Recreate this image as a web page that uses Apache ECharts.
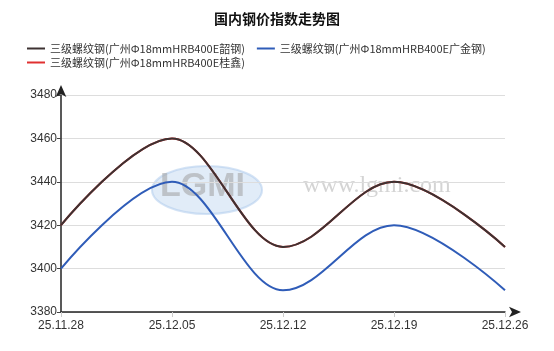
<!DOCTYPE html>
<html><head><meta charset="utf-8">
<script src="https://cdn.jsdelivr.net/npm/echarts@6/dist/echarts.min.js"></script>
<style>html,body{margin:0;padding:0;background:#fff}#c{width:554px;height:351px}</style>
</head><body><div id="c"></div>
<script>
var categories = ['25.11.28','25.12.05','25.12.12','25.12.19','25.12.26'];
var shaoGang = [3420, 3460, 3410, 3440, 3410];
var guangJin = [3400, 3440, 3390, 3420, 3390];
var guiXin = [3420, 3460, 3410, 3440, 3410];
var seriesNames = ['三级螺纹钢(广州Φ18mmHRB400E韶钢)','三级螺纹钢(广州Φ18mmHRB400E广金钢)','三级螺纹钢(广州Φ18mmHRB400E桂鑫)'];
var font = '"Microsoft YaHei","Noto Sans CJK SC",sans-serif';
var chart = echarts.init(document.getElementById('c'));
chart.setOption({
  backgroundColor:'#fff',
  animation:false,
  title:{text:'国内钢价指数走势图',left:'center',top:7,textStyle:{fontSize:14,fontWeight:'bold',color:'#111',fontFamily:font}},
  legend:[
    {data:[seriesNames[0],seriesNames[1]],left:22,top:38,itemWidth:18,itemHeight:2,itemGap:12,icon:'rect',
     textStyle:{fontSize:11,color:'#333',fontFamily:font}},
    {data:[seriesNames[2]],left:22,top:52,itemWidth:18,itemHeight:2,icon:'rect',
     textStyle:{fontSize:11,color:'#333',fontFamily:font}}
  ],
  grid:{left:61,right:49,top:95,bottom:39},
  graphic:[
    {type:'ellipse',shape:{cx:207,cy:190,rx:55,ry:24},style:{fill:'rgba(170,200,235,0.35)',stroke:'rgba(170,200,235,0.5)',lineWidth:2},z:0},
    {type:'text',left:160,top:170,style:{text:'LGMI',fontSize:34,fontWeight:'bold',fill:'rgba(160,160,160,0.55)',fontFamily:'Arial'},z:0},
    {type:'text',left:303,top:174,style:{text:'www.lgmi.com',fontSize:24,fill:'rgba(170,170,170,0.5)',fontFamily:'"Liberation Serif",serif'},z:0}
  ],
  xAxis:{type:'category',data:categories,boundaryGap:false,
    axisLine:{lineStyle:{color:'#222',width:1.5},symbol:['none','arrow'],symbolSize:[8,12],symbolOffset:[0,16]},
    axisTick:{show:true,alignWithLabel:true,lineStyle:{color:'#ccc'}},
    axisLabel:{color:'#333',fontSize:12,fontFamily:'Arial',margin:8},
    splitLine:{show:false}},
  yAxis:{type:'value',min:3380,max:3480,interval:20,
    axisLine:{show:true,lineStyle:{color:'#222',width:1.5},symbol:['none','arrow'],symbolSize:[8,12],symbolOffset:[0,10]},
    axisTick:{show:true,length:4,lineStyle:{color:'#444'}},
    axisLabel:{color:'#333',fontSize:12,fontFamily:'Arial',margin:4,formatter:function(v){return String(v);}},
    splitLine:{lineStyle:{color:'#ddd'}}},
  series:[
    {name:seriesNames[2],type:'line',data:guiXin,smooth:0.35,smoothMonotone:'x',symbol:'none',lineStyle:{color:'#e03030',width:2},itemStyle:{color:'#e03030'},z:2},
    {name:seriesNames[0],type:'line',data:shaoGang,smooth:0.35,smoothMonotone:'x',symbol:'none',lineStyle:{color:'#3d3232',width:2},itemStyle:{color:'#3d3232'},z:3},
    {name:seriesNames[1],type:'line',data:guangJin,smooth:0.35,smoothMonotone:'x',symbol:'none',lineStyle:{color:'#2f5cb8',width:2},itemStyle:{color:'#2f5cb8'},z:3}
  ]
});
</script></body></html>
